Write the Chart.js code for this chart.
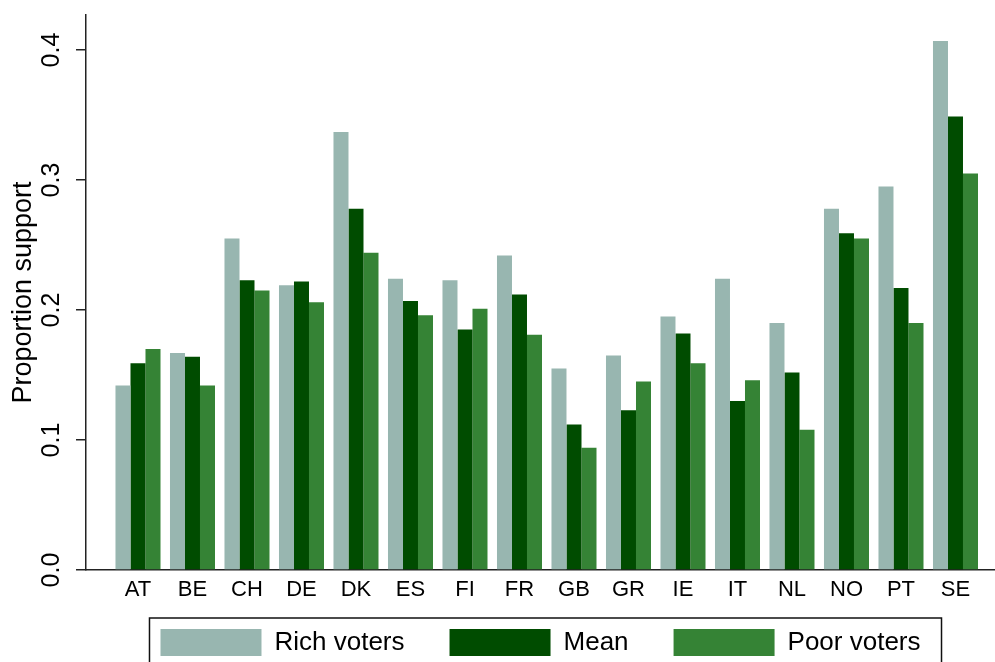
<!DOCTYPE html>
<html>
<head>
<meta charset="utf-8">
<script src="https://cdn.jsdelivr.net/npm/chart.js@4/dist/chart.umd.min.js"></script>
<style>
  html, body { margin: 0; padding: 0; background: #fff; }
  #wrap { width: 995px; height: 662px; }
</style>
</head>
<body>
<div id="wrap"><canvas id="c" width="995" height="662"></canvas></div>
<script>
// Countries along the x axis
const countries = ['AT', 'BE', 'CH', 'DE', 'DK', 'ES', 'FI', 'FR', 'GB', 'GR', 'IE', 'IT', 'NL', 'NO', 'PT', 'SE'];

// Proportion supporting, by income group
const richVoters = [0.142, 0.167, 0.255, 0.219, 0.337, 0.224, 0.223, 0.242, 0.155, 0.165, 0.195, 0.224, 0.190, 0.278, 0.295, 0.407];
const meanSupport = [0.159, 0.164, 0.223, 0.222, 0.278, 0.207, 0.185, 0.212, 0.112, 0.123, 0.182, 0.130, 0.152, 0.259, 0.217, 0.349];
const poorVoters = [0.170, 0.142, 0.215, 0.206, 0.244, 0.196, 0.201, 0.181, 0.094, 0.145, 0.159, 0.146, 0.108, 0.255, 0.190, 0.305];

// Y axis tick values
const yTicks = [0.0, 0.1, 0.2, 0.3, 0.4];

const seriesNames = ['Rich voters', 'Mean', 'Poor voters'];
const seriesColors = ['#98b6b0', '#004c00', '#358335'];
const seriesValues = [richVoters, meanSupport, poorVoters];

const FONT = "'Liberation Sans', Arial, sans-serif";

// Frame drawn around the legend, sized from the legend's own hit boxes
const legendFrame = {
  id: 'legendFrame',
  afterDraw(chart) {
    const lg = chart.legend;
    if (!lg || !lg.legendHitBoxes || !lg.legendHitBoxes.length) return;
    const boxes = lg.legendHitBoxes;
    const first = boxes[0], last = boxes[boxes.length - 1];
    const x0 = first.left - 11;
    const x1 = last.left + last.width + 21;
    const y0 = first.top - 11;
    const y1 = chart.height + 10;
    const ctx = chart.ctx;
    ctx.save();
    ctx.strokeStyle = '#111';
    ctx.lineWidth = 1.5;
    ctx.strokeRect(x0, y0, x1 - x0, y1 - y0);
    ctx.restore();
  }
};

new Chart(document.getElementById('c'), {
  type: 'bar',
  data: {
    datasets: seriesValues.map((vals, k) => ({
      label: seriesNames[k],
      data: vals.map((v, i) => ({ x: i, y: v })),
      backgroundColor: seriesColors[k],
      borderWidth: 0,
      categoryPercentage: 0.826,
      barPercentage: 1.0
    }))
  },
  options: {
    responsive: false,
    animation: false,
    layout: { padding: { top: 15, left: 0, right: 0, bottom: 0 } },
    plugins: {
      tooltip: { enabled: false },
      legend: {
        position: 'bottom',
        fullSize: false,
        maxHeight: 78,
        labels: {
          boxWidth: 101,
          boxHeight: 27,
          padding: 45,
          color: '#000',
          font: { family: FONT, size: 26 }
        }
      }
    },
    scales: {
      x: {
        type: 'linear',
        min: -0.954,
        max: 15.725,
        offset: false,
        grid: { display: false, drawTicks: false, offset: false },
        border: { display: true, color: '#222', width: 1.5 },
        afterBuildTicks: (s) => { s.ticks = countries.map((c, i) => ({ value: i })); },
        afterFit: (s) => { s.height = 14; },
        ticks: {
          autoSkip: false,
          maxRotation: 0,
          minRotation: 0,
          // mirrored labels are not clipped to the thin axis box
          mirror: true,
          padding: -33.2,
          color: '#000',
          font: { family: FONT, size: 22 },
          callback: (v) => countries[v]
        }
      },
      y: {
        type: 'linear',
        min: 0,
        max: 0.427,
        grid: { drawOnChartArea: false, drawTicks: true, tickLength: 10, color: '#222', lineWidth: 1.5 },
        border: { display: true, color: '#222', width: 1.5 },
        afterBuildTicks: (s) => { s.ticks = yTicks.map(v => ({ value: v })); },
        afterFit: (s) => { s.width = 86; s.paddingTop = 0; s.paddingBottom = 0; },
        ticks: {
          minRotation: 90,
          maxRotation: 90,
          crossAlign: 'center',
          padding: 7,
          color: '#000',
          font: { family: FONT, size: 25 },
          callback: (v) => Number(v).toFixed(1)
        },
        title: {
          display: true,
          text: 'Proportion support',
          color: '#000',
          padding: { top: 7, bottom: 0 },
          font: { family: FONT, size: 27 }
        }
      }
    }
  },
  plugins: [legendFrame]
});
</script>
</body>
</html>
